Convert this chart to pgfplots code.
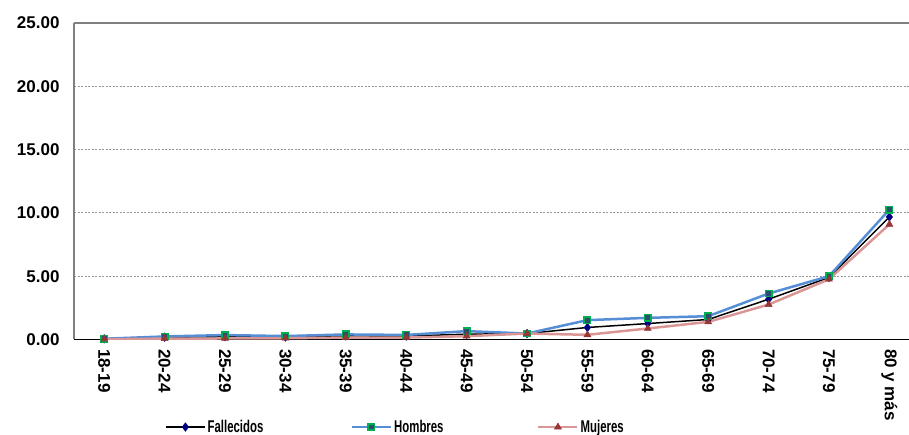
\documentclass[border=0pt]{standalone}
\usepackage{fontspec}
\setmainfont{Liberation Sans}
\usepackage{graphicx}
\usepackage{pgfplots}
\pgfplotsset{compat=1.18}
\definecolor{fallc}{RGB}{0,0,0}
\definecolor{fallm}{RGB}{0,0,128}
\definecolor{homc}{RGB}{85,142,213}
\definecolor{homm}{RGB}{0,176,80}
\definecolor{homf}{RGB}{40,80,110}
\definecolor{mujc}{RGB}{218,150,148}
\definecolor{mujm}{RGB}{149,55,53}
\definecolor{gridc}{RGB}{150,150,150}
\newcommand\lf{\fontsize{17}{20}\selectfont\bfseries}
\newcommand\legtxt[1]{\makebox[110pt][l]{\scalebox{0.67}[1]{#1}}}
\begin{document}
\begin{tikzpicture}
\useasboundingbox (0,0) rectangle (909pt,435pt);
\begin{axis}[
  at={(74pt,95.5pt)}, anchor=south west,
  scale only axis, width=845.6pt, height=316.5pt,
  xmin=-0.5, xmax=13.5, ymin=0, ymax=25,
  xtick={0,...,13},
  xticklabels={18-19,20-24,25-29,30-34,35-39,40-44,45-49,50-54,55-59,60-64,65-69,70-74,75-79,80 y más},
  ytick={0,5,10,15,20,25},
  major tick length=0pt,
  axis x line*=bottom, axis y line*=left,
  axis line style={-},
  x axis line style={black, line width=1.3pt},
  y axis line style={gray, line width=1.6pt},
  ymajorgrids,
  grid style={gridc, line width=0.8pt, dash pattern=on 2pt off 1.5pt},
  /pgf/number format/assume math mode=true,
  yticklabel style={font=\lf, /pgf/number format/.cd, fixed, fixed zerofill, precision=2},
  yticklabel shift=11pt,
  xticklabel style={font=\lf, rotate=-90, anchor=west},
  xticklabel shift=6pt,
  legend columns=3,
  legend cell align=left,
  legend style={draw=none, fill=none, at={(0.1076,-0.2765)}, anchor=west,
    inner sep=0pt, nodes={inner xsep=2pt, inner ysep=0pt, font=\lf},
    /tikz/every even column/.append style={column sep=31pt}},
  legend image code/.code={\draw[mark repeat=2,mark phase=2,#1] plot coordinates {(0pt,0pt) (19.5pt,0pt) (39pt,0pt)};},
]
\addplot[fallc, line width=1.5pt, mark=diamond*, mark size=3.5pt,
  mark options={solid, fill=fallm, draw=fallm}]
  coordinates {(0,0.05) (1,0.18) (2,0.22) (3,0.20) (4,0.28) (5,0.27) (6,0.42) (7,0.47) (8,0.95) (9,1.26) (10,1.58) (11,3.18) (12,4.90) (13,9.68)};
\addlegendentry{\legtxt{Fallecidos}}
\addplot[homc, line width=2.5pt, mark=square*, mark size=3.2pt,
  mark options={solid, fill=homf, draw=homm, line width=1.5pt}]
  coordinates {(0,0.06) (1,0.24) (2,0.35) (3,0.27) (4,0.40) (5,0.36) (6,0.66) (7,0.47) (8,1.53) (9,1.71) (10,1.84) (11,3.63) (12,5.00) (13,10.26)};
\addlegendentry{\legtxt{Hombres}}
\addplot[mujc, line width=2.5pt, mark=triangle*, mark size=4pt,
  mark options={solid, fill=mujm, draw=mujm, line width=0.5pt}]
  coordinates {(0,0.02) (1,0.07) (2,0.08) (3,0.10) (4,0.15) (5,0.15) (6,0.26) (7,0.47) (8,0.37) (9,0.87) (10,1.39) (11,2.76) (12,4.76) (13,9.10)};
\addlegendentry{\legtxt{Mujeres}}
\draw[gray, line width=1.6pt] (rel axis cs:0,1) -- (rel axis cs:1,1);
\end{axis}
\end{tikzpicture}
\end{document}
